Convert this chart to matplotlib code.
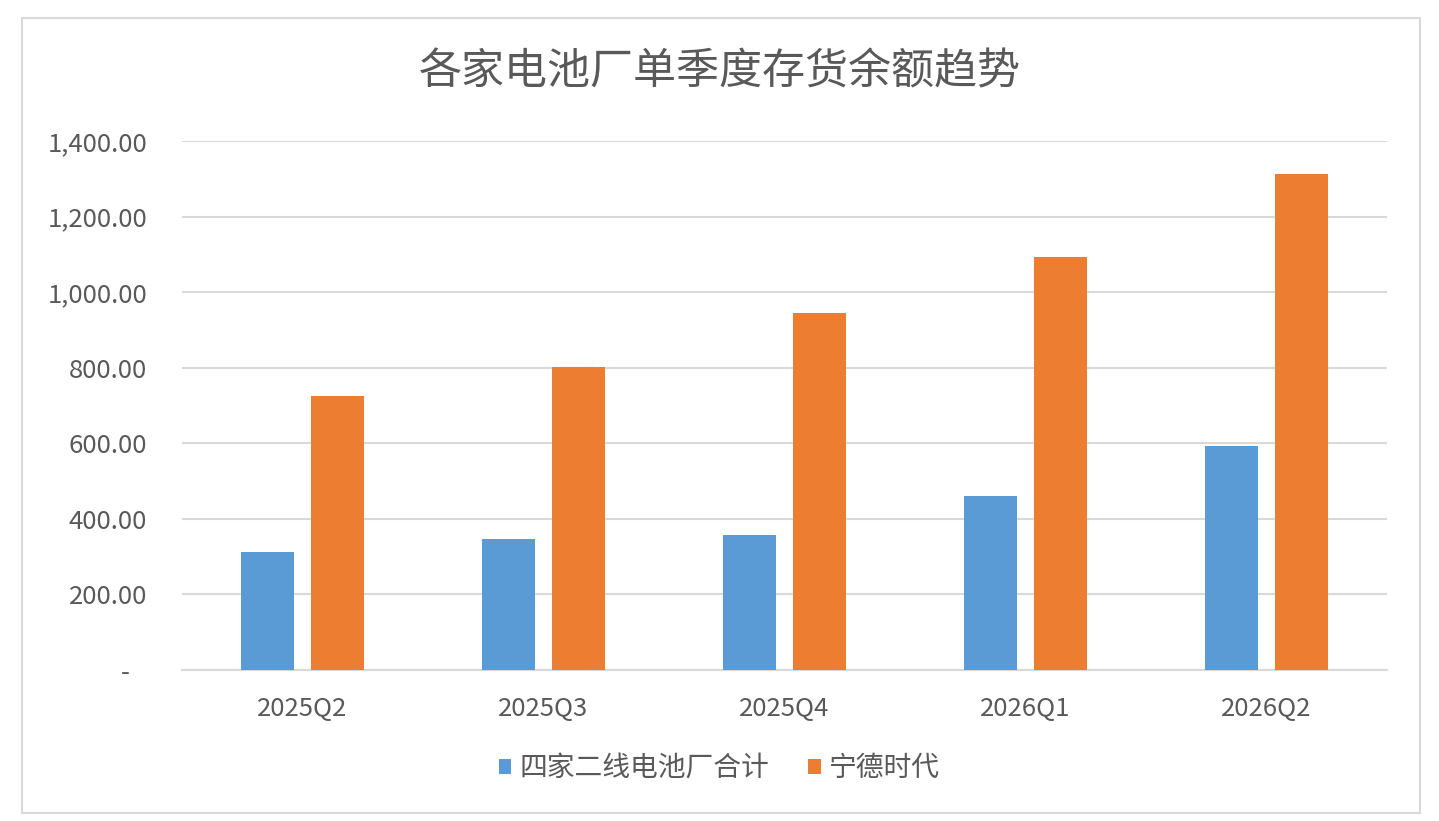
import numpy as np
import matplotlib
matplotlib.use('Agg')
import matplotlib.pyplot as plt
from matplotlib.patches import Rectangle
from matplotlib.ticker import FuncFormatter

plt.rcParams['font.family'] = ['Noto Sans CJK SC', 'DejaVu Sans']
plt.rcParams['font.weight'] = 'light'

quarters = ['2025Q2', '2025Q3', '2025Q4', '2026Q1', '2026Q2']
second_tier = [312, 346, 357, 461, 593]
catl = [724, 801, 944, 1094, 1313]
series_names = ['四家二线电池厂合计', '宁德时代']
title = '各家电池厂单季度存货余额趋势'

BLUE = '#5B9BD5'
ORANGE = '#ED7D31'
GRID = '#D9D9D9'
TEXT = '#595959'

fig = plt.figure(figsize=(14.39, 8.21), dpi=100)
fig.patches.append(Rectangle((22 / 1439, 1 - 813 / 821), (1420 - 22) / 1439, (813 - 18) / 821,
                             transform=fig.transFigure, fill=False, edgecolor=GRID, lw=1.5))
ax = fig.add_axes([182 / 1439, 1 - 670 / 821, (1387 - 182) / 1439, (670 - 141) / 821])

x = np.arange(len(quarters))
w = 0.22
off = 0.145
ax.bar(x - off, second_tier, w, color=BLUE, label=series_names[0], zorder=3)
ax.bar(x + off, catl, w, color=ORANGE, label=series_names[1], zorder=3)

ax.set_xlim(-0.5, len(quarters) - 0.5)
ax.set_ylim(0, 1400)
ax.set_yticks(np.arange(0, 1401, 200))
ax.yaxis.set_major_formatter(FuncFormatter(lambda v, p: '-   ' if v == 0 else f'{v:,.2f}'))
ax.set_xticks(x)
ax.set_xticklabels(quarters)
ax.grid(axis='y', color=GRID, lw=1.5, zorder=0)
for s in ['top', 'left', 'right']:
    ax.spines[s].set_visible(False)
ax.spines['bottom'].set_color(GRID)
ax.spines['bottom'].set_linewidth(1.5)
ax.tick_params(axis='both', length=0, colors=TEXT, labelsize=18.5)
ax.tick_params(axis='y', pad=25)
ax.tick_params(axis='x', pad=19)

fig.text(0.5, 1 - 72 / 821, title, ha='center', va='center', fontsize=31, color=TEXT)

leg = fig.legend(loc='center', bbox_to_anchor=(0.5, 1 - 768 / 821), ncol=2, frameon=False,
                 fontsize=20, handlelength=0.45, handleheight=0.45, handletextpad=0.3,
                 columnspacing=1.4)
for t in leg.get_texts():
    t.set_color(TEXT)

fig.savefig('out.png', dpi=100, facecolor='white')
